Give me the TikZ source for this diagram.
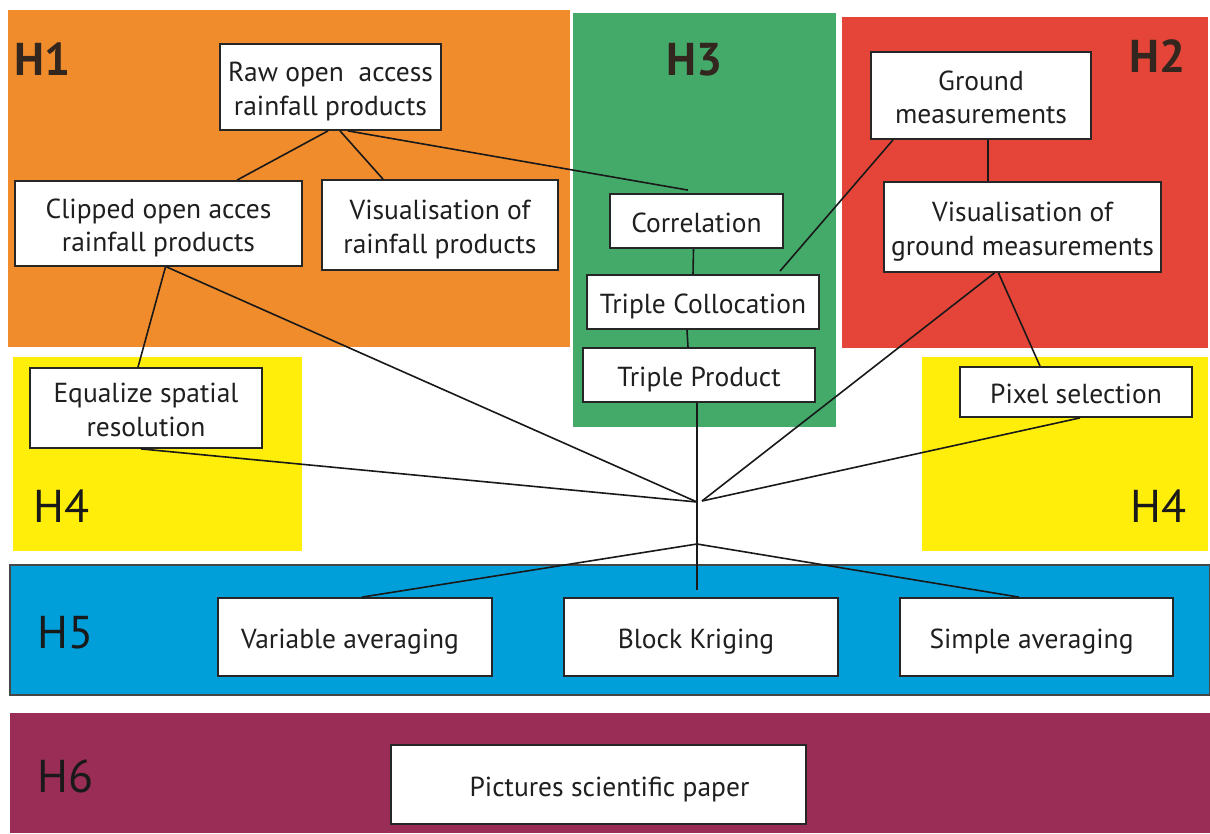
\documentclass[tikz,border=0pt]{standalone}
\usepackage{fontspec}
\setmainfont{PT Sans}
\usetikzlibrary{calc}
\definecolor{cOrange}{RGB}{241,140,45}
\definecolor{cGreen}{RGB}{67,170,106}
\definecolor{cRed}{RGB}{229,69,57}
\definecolor{cYellow}{RGB}{255,237,10}
\definecolor{cBlue}{RGB}{0,159,218}
\definecolor{cPurple}{RGB}{153,45,85}
\definecolor{cLabel}{RGB}{50,38,30}
\definecolor{cBorder}{RGB}{70,70,70}
\newcommand{\bxt}[1]{\raisebox{-5pt}[\height][\depth]{\begin{tabular}{@{}c@{}}#1\end{tabular}}}
\tikzset{
  boxnode/.style={draw=black!85, fill=white, line width=1.8pt, inner sep=0pt,
    font=\fontsize{27.5}{33.5}\selectfont, text=black!88},
  link/.style={draw=black!90, line width=1.6pt},
  hbold/.style={font=\fontsize{46}{46}\selectfont\bfseries, text=cLabel, inner sep=0pt},
  hreg/.style={font=\fontsize{46}{46}\selectfont, text=black!90, inner sep=0pt},
}
\begin{document}
\begin{tikzpicture}[x=1pt,y=-1pt]
\useasboundingbox (0,0) rectangle (1210,833);
% background zones
\fill[cOrange] (8,10) rectangle (570,347);
\fill[cGreen] (573,13) rectangle (836,427);
\fill[cRed] (842,17) rectangle (1208,348);
\fill[cYellow] (13,357) rectangle (302,551);
\fill[cYellow] (922,357) rectangle (1208,551);
\filldraw[fill=cBlue, draw=cBorder, line width=1.6pt] (10,565) rectangle (1210,695);
\fill[cPurple] (10,713) rectangle (1210,833);
% zone labels
\node[hbold, anchor=base west] (lh1) at (14,75) {H1};
\node[hbold, anchor=base] (lh3) at (695,75) {H3};
\node[hbold, anchor=base east] (lh2) at (1186,72) {H2};
\node[hreg, anchor=base west] (lh4a) at (33,522) {H4};
\node[hreg, anchor=base east] (lh4b) at (1187,522) {H4};
\node[hreg, anchor=base west] (lh5) at (37,648) {H5};
\node[hreg, anchor=base west] (lh6) at (37,792) {H6};
% hubs
\coordinate (hub) at (697,502);
\coordinate (hubR) at (702,501);
\coordinate (hub2) at (697,544);
% boxes
\node[boxnode, minimum width=221, minimum height=86] (raw) at (330.5,87) {\bxt{Raw open\ \ access\\rainfall products}};
\node[boxnode, minimum width=287, minimum height=85] (clip) at (158.5,223.5) {\bxt{Clipped open acces\\rainfall products}};
\node[boxnode, minimum width=236, minimum height=90] (visr) at (440,225) {\bxt{Visualisation of\\rainfall products}};
\node[boxnode, minimum width=173, minimum height=54] (corr) at (696.5,221) {\bxt{Correlation}};
\node[boxnode, minimum width=232, minimum height=54] (tc) at (703,302) {\bxt{Triple Collocation}};
\node[boxnode, minimum width=232, minimum height=54] (tp) at (699,375) {\bxt{Triple Product}};
\node[boxnode, minimum width=220, minimum height=87] (gm) at (981,95.5) {\bxt{Ground\\measurements}};
\node[boxnode, minimum width=277, minimum height=90] (vg) at (1022.5,227) {\bxt{Visualisation of\\ground measurements}};
\node[boxnode, minimum width=232, minimum height=80] (eq) at (146,408) {\bxt{Equalize spatial\\resolution}};
\node[boxnode, minimum width=232, minimum height=50] (px) at (1076,392) {\bxt{Pixel selection}};
\node[boxnode, minimum width=274, minimum height=78] (va) at (355,637) {\bxt{Variable averaging\hspace*{10pt}}};
\node[boxnode, minimum width=274, minimum height=78] (bk) at (701,637) {\bxt{Block Kriging\hspace*{10pt}}};
\node[boxnode, minimum width=273, minimum height=78] (sa) at (1036.5,637) {\bxt{Simple averaging\hspace*{10pt}}};
\node[boxnode, minimum width=415, minimum height=79] (pic) at (598.5,784.5) {\bxt{\hspace*{22pt}Pictures scientific paper}};
% connectors
\draw[link] ($(raw.south)+(-2.5,0)$) -- ($(clip.north)+(78.5,0)$);
\draw[link] ($(raw.south)+(9.5,0)$) -- ($(visr.north)+(-57,0)$);
\draw[link] ($(raw.south)+(17.5,0)$) -- ($(corr.north)+(-8.5,-3)$);
\draw[link] ($(corr.south)+(-3,0)$) -- ($(tc.north)+(-10,0)$);
\draw[link] ($(tc.south)+(-16,0)$) -- ($(tp.north)+(-11,0)$);
\draw[link] ($(gm.south)+(-88,0)$) -- ($(tc.north)+(77,-3)$);
\draw[link] ($(gm.south)+(7,0)$) -- ($(vg.north)+(-34.5,0)$);
\draw[link] ($(vg.south)+(-28,0)$) -- (hubR);
\draw[link] ($(vg.south)+(-24,0)$) -- ($(px.north)+(-36,0)$);
\draw[link] ($(px.south)+(4,0)$) -- (hubR);
\draw[link] ($(eq.south)+(-5,0)$) -- (hub);
\draw[link] ($(clip.south)+(7,0)$) -- ($(eq.north)+(-8,0)$);
\draw[link] ($(clip.south)+(8,0)$) -- (hub);
\draw[link] ($(tp.south)+(-2,0)$) -- ($(bk.north)+(-4,-7)$);
\draw[link] ($(va.north)+(7,0)$) -- (hub2) -- ($(sa.north)+(-17.5,0)$);
\end{tikzpicture}
\end{document}
